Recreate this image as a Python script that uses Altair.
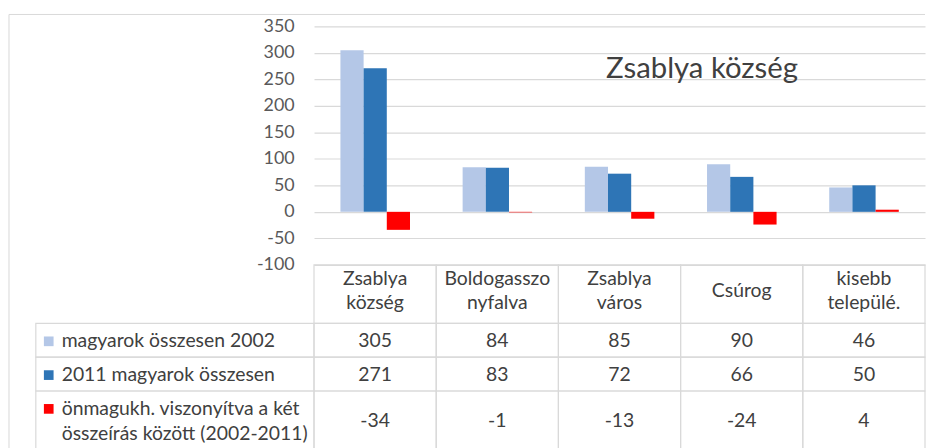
import altair as alt
import pandas as pd

# ---------------- data ----------------
categories = ["Zsablya\nközség", "Boldogasszo\nnyfalva", "Zsablya\nváros", "Csúrog", "kisebb\ntelepülé."]
series = [
    "magyarok összesen 2002",
    "2011 magyarok összesen",
    "önmagukh. viszonyítva a két\nösszeírás között (2002-2011)",
]
values_2002 = [305, 84, 85, 90, 46]
values_2011 = [271, 83, 72, 66, 50]
values_change = [-34, -1, -13, -24, 4]
y_ticks = [-100, -50, 0, 50, 100, 150, 200, 250, 300, 350]
title_text = ["Zsablya község"]

# ---------------- styles / layout ----------------
colors = ["#B4C7E7", "#2E75B6", "#FF0000"]
FONT = "Lato"
TEXT = "#404040"
GRID = "#D9D9D9"
FS = 19.5
W, H = 615, 240
row_tops = [240, 299, 333, 367]
row_bottoms = [299, 333, 367, 440]
header_y = {"single": 266, "first": 254, "second": 278}
value_text_y = [317, 351, 397]
legend_text_y = [317, 351, 385]
legend_key_y = [317, 351, 385]
LEGEND_LEFT = -280

all_values = [values_2002, values_2011, values_change]
long_df = pd.DataFrame(
    [
        {"cat": c, "series": s, "value": v, "label": str(v)}
        for s, vals in zip(series, all_values)
        for c, v in zip(categories, vals)
    ]
)
cat_df = pd.DataFrame({"cat": categories})
one_df = pd.DataFrame({"t": title_text})

# header lines (split the category names at their line breaks)
header_rows = []
for c in categories:
    parts = c.split("\n")
    if len(parts) == 1:
        header_rows.append({"cat": c, "line": parts[0], "pos": "single"})
    else:
        header_rows.append({"cat": c, "line": parts[0], "pos": "first"})
        header_rows.append({"cat": c, "line": parts[1], "pos": "second"})
header_df = pd.DataFrame(header_rows)

xenc = alt.X(
    "cat:N",
    sort=categories,
    scale=alt.Scale(paddingInner=0, paddingOuter=0),
    axis=None,
)

layers = []

# outer chart border (left and top)
layers.append(
    alt.Chart(one_df)
    .mark_rule(color=GRID, strokeWidth=1)
    .encode(x=alt.value(-307), y=alt.value(-12), y2=alt.value(H + 200))
)
layers.append(
    alt.Chart(one_df)
    .mark_rule(color=GRID, strokeWidth=1)
    .encode(x=alt.value(-307), x2=alt.value(W), y=alt.value(-12))
)

# bars
bars = (
    alt.Chart(long_df)
    .mark_bar()
    .encode(
        x=xenc,
        xOffset=alt.XOffset(
            "series:N",
            sort=series,
            scale=alt.Scale(paddingInner=0, paddingOuter=0, range=[26.6, 96.6]),
        ),
        y=alt.Y(
            "value:Q",
            scale=alt.Scale(domain=[-100, 350], nice=False),
            axis=alt.Axis(
                values=y_ticks,
                title=None,
                ticks=False,
                domain=False,
                grid=True,
                gridColor=GRID,
                gridWidth=1.2,
                labelFont=FONT,
                labelFontSize=18,
                labelColor="#595959",
                labelPadding=20,
                labelExpr="datum.value + ''",
            ),
        ),
        color=alt.Color(
            "series:N",
            sort=series,
            scale=alt.Scale(domain=series, range=colors),
            legend=None,
        ),
    )
)
layers.append(bars)

# table cells for categories
for top, bot in zip(row_tops, row_bottoms):
    layers.append(
        alt.Chart(cat_df)
        .mark_rect(fillOpacity=0, stroke=GRID, strokeWidth=1.2)
        .encode(x=xenc, y=alt.value(top), y2=alt.value(bot))
    )
# legend column cells
for top, bot in zip(row_tops[1:], row_bottoms[1:]):
    layers.append(
        alt.Chart(one_df)
        .mark_rect(fillOpacity=0, stroke=GRID, strokeWidth=1.2)
        .encode(x=alt.value(LEGEND_LEFT), x2=alt.value(0), y=alt.value(top), y2=alt.value(bot))
    )

# header row text
for pos, yv in header_y.items():
    layers.append(
        alt.Chart(header_df)
        .transform_filter(alt.datum.pos == pos)
        .mark_text(font=FONT, fontSize=FS, color=TEXT, baseline="middle")
        .encode(x=xenc, text="line:N", y=alt.value(yv))
    )

# value rows + legend column
for i, s in enumerate(series):
    sdf = long_df[long_df["series"] == s]
    layers.append(
        alt.Chart(sdf)
        .mark_text(font=FONT, fontSize=FS, color=TEXT, baseline="middle")
        .encode(x=xenc, text="label:N", y=alt.value(value_text_y[i]))
    )
    ldf = pd.DataFrame({"name": [s]})
    layers.append(
        alt.Chart(ldf)
        .mark_text(
            font=FONT, fontSize=FS, color=TEXT, align="left", baseline="middle",
            lineBreak="\n", lineHeight=25,
        )
        .encode(x=alt.value(LEGEND_LEFT + 26), y=alt.value(legend_text_y[i]), text="name:N")
    )
    layers.append(
        alt.Chart(ldf)
        .mark_square(size=95, filled=True, opacity=1)
        .encode(x=alt.value(LEGEND_LEFT + 13), y=alt.value(legend_key_y[i]), color=alt.value(colors[i]))
    )

# title inside plot
layers.append(
    alt.Chart(one_df)
    .mark_text(font=FONT, fontSize=29.5, color=TEXT, align="left", baseline="middle")
    .encode(x=alt.value(294), y=alt.value(43), text="t:N")
)

chart = (
    alt.layer(*layers)
    .properties(width=W, height=H, padding={"left": 0, "top": 4, "right": 0, "bottom": 0})
    .configure_view(stroke=None)
)

chart.save("out.html", embed_options={"renderer": "svg", "actions": False})
